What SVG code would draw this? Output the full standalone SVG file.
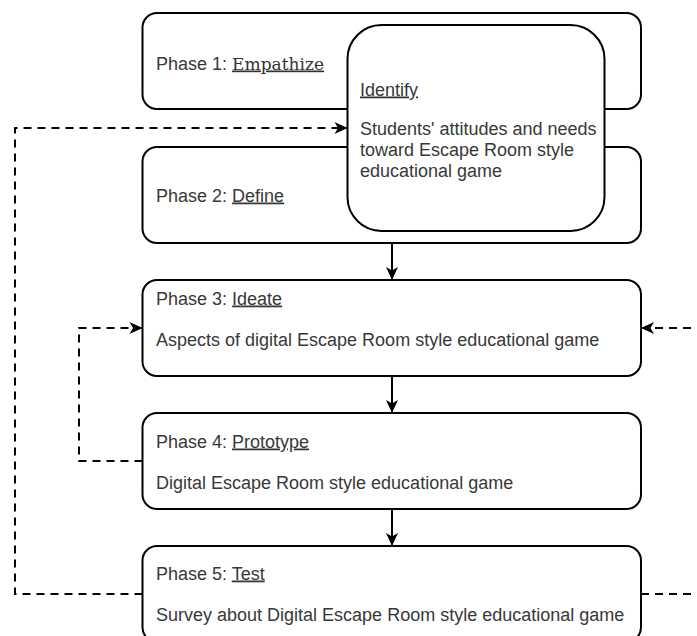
<svg xmlns="http://www.w3.org/2000/svg" width="697" height="636" viewBox="0 0 697 636">
<style>
.box{fill:#fff;stroke:#000;stroke-width:2}
.t{font-family:"Liberation Sans",Arial,sans-serif;font-size:18px;fill:#383838}
.u{text-decoration:underline}
.sf{font-family:"DejaVu Serif","Liberation Serif",serif;font-size:17px;fill:#333}
.solid{fill:none;stroke:#000;stroke-width:2}
.dash{fill:none;stroke:#000;stroke-width:2;stroke-dasharray:8 6}
</style>
<defs>
<marker id="arr" markerUnits="userSpaceOnUse" markerWidth="13" markerHeight="12" refX="13" refY="6" orient="auto" overflow="visible">
<path d="M0,0 L13,6 L0,12 L3.5,6 Z" fill="#000" stroke="none"/>
</marker>
</defs>
<rect width="697" height="636" fill="#fff"/>
<g id="phase1">
<rect class="box" x="142.5" y="13" width="498.5" height="96" rx="14.5"/>
<text class="t" x="156" y="69.5">Phase 1: <tspan class="u sf" textLength="92" lengthAdjust="spacingAndGlyphs">Empathize</tspan></text>
</g>
<g id="phase2">
<rect class="box" x="142.5" y="147" width="498.5" height="96" rx="14.5"/>
<text class="t" x="156" y="201.5">Phase 2: <tspan class="u">Define</tspan></text>
</g>
<g id="identify">
<rect class="box" x="347.5" y="25" width="257" height="206" rx="34"/>
<text class="t" x="360" y="95.5"><tspan class="u">Identify</tspan></text>
<text class="t" x="360" y="134.5">Students' attitudes and needs</text>
<text class="t" x="360" y="155.5">toward Escape Room style</text>
<text class="t" x="360" y="176.5">educational game</text>
</g>
<g id="phase3">
<rect class="box" x="142.5" y="280" width="498.5" height="96" rx="14.5"/>
<text class="t" x="156" y="304.5">Phase 3: <tspan class="u">Ideate</tspan></text>
<text class="t" x="156" y="345.5">Aspects of digital Escape Room style educational game</text>
</g>
<g id="phase4">
<rect class="box" x="142.5" y="413" width="498.5" height="96" rx="14.5"/>
<text class="t" x="156" y="447.5">Phase 4: <tspan class="u">Prototype</tspan></text>
<text class="t" x="156" y="488.5">Digital Escape Room style educational game</text>
</g>
<g id="phase5">
<rect class="box" x="142.5" y="546" width="498.5" height="96" rx="14.5"/>
<text class="t" x="156" y="579.5">Phase 5: <tspan class="u">Test</tspan></text>
<text class="t" x="156" y="620.5">Survey about Digital Escape Room style educational game</text>
</g>
<g id="connectors">
<path class="solid" d="M392,243 L392,280" marker-end="url(#arr)"/>
<path class="solid" d="M392,376 L392,413" marker-end="url(#arr)"/>
<path class="solid" d="M392,509 L392,546" marker-end="url(#arr)"/>
<path class="dash" d="M142.5,594 L15,594 L15,128 L347.5,128" marker-end="url(#arr)"/>
<path class="dash" d="M142.5,461 L79,461 L79,328 L142.5,328" marker-end="url(#arr)"/>
<path class="dash" d="M641,594 L715,594 L715,328 L641,328" marker-end="url(#arr)"/>
</g>
</svg>
